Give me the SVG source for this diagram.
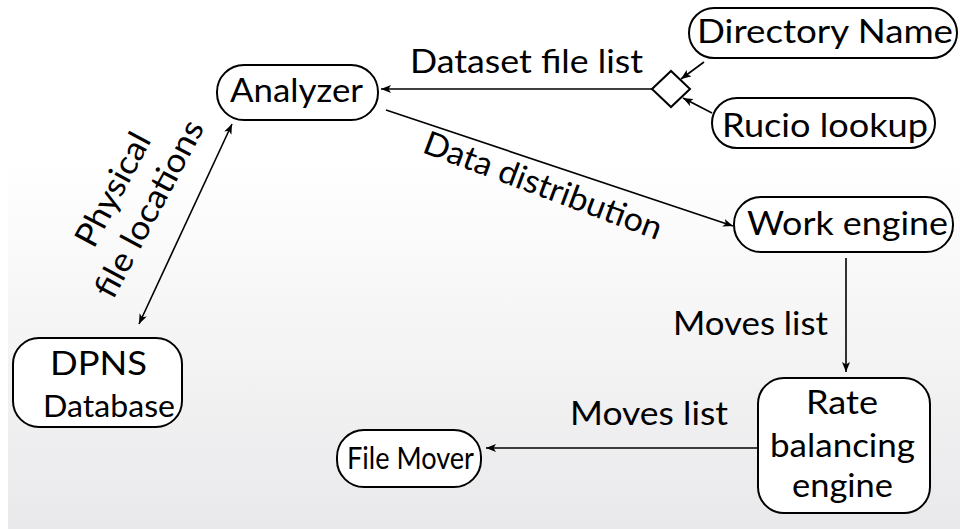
<svg xmlns="http://www.w3.org/2000/svg" width="960" height="529" viewBox="0 0 960 529">
  <defs>
    <linearGradient id="bg" x1="0" y1="0" x2="0" y2="1">
      <stop offset="0" stop-color="#ffffff"/>
      <stop offset="0.3" stop-color="#ffffff"/>
      <stop offset="1" stop-color="#e9e9eb"/>
    </linearGradient>
    <marker id="arr" viewBox="0 0 10 8" refX="10" refY="4" markerWidth="10" markerHeight="8" markerUnits="userSpaceOnUse" orient="auto-start-reverse">
      <path d="M0,0 L10,4 L0,8 L2.5,4 z" fill="#000"/>
    </marker>
  </defs>
  <style>
    .box { fill: #ffffff; stroke: #000; stroke-width: 2; }
    .lbl { font-family: Lato, "Open Sans", "DejaVu Sans", sans-serif; font-size: 33px; fill: #000; }
    .narrow { font-size: 31px; }
    .con { fill: none; stroke: #000; stroke-width: 1.6; }
  </style>
  <rect x="0" y="0" width="960" height="529" fill="#ffffff"/>
  <rect x="8" y="0" width="952" height="529" fill="url(#bg)"/>

  <g id="connectors">
    <path class="con" d="M652,89 L381,89" marker-end="url(#arr)"/>
    <path class="con" d="M704,62 L681,79" marker-end="url(#arr)"/>
    <path class="con" d="M712,113 L683,98" marker-end="url(#arr)"/>
    <path class="con" d="M386,110 L733,226" marker-end="url(#arr)"/>
    <path class="con" d="M139,324 L232,124" marker-start="url(#arr)" marker-end="url(#arr)"/>
    <path class="con" d="M846,258 L846,372" marker-end="url(#arr)"/>
    <path class="con" d="M757,448 L486,448" marker-end="url(#arr)"/>
    <text class="lbl" x="410" y="73" textLength="233" lengthAdjust="spacingAndGlyphs">Dataset file list</text>
    <text class="lbl" transform="translate(421,152) rotate(20.5)" x="0" y="0" textLength="252" lengthAdjust="spacingAndGlyphs">Data distribution</text>
    <g transform="translate(159,214) rotate(-62)">
      <text class="lbl" x="0" y="-41" text-anchor="middle" textLength="124" lengthAdjust="spacingAndGlyphs">Physical</text>
      <text class="lbl" x="0" y="0" text-anchor="middle" textLength="196" lengthAdjust="spacingAndGlyphs">file locations</text>
    </g>
    <text class="lbl" x="673" y="335" textLength="155" lengthAdjust="spacingAndGlyphs">Moves list</text>
    <text class="lbl" x="570" y="425" textLength="158" lengthAdjust="spacingAndGlyphs">Moves list</text>
  </g>

  <g id="merge">
    <polygon class="box" points="652,89 671,71 690,89 671,107" stroke-width="1.8"/>
  </g>

  <g id="directory-name">
    <rect class="box" x="689" y="8" width="268" height="50" rx="25"/>
    <text class="lbl" x="697" y="43" textLength="256" lengthAdjust="spacingAndGlyphs">Directory Name</text>
  </g>

  <g id="rucio-lookup">
    <rect class="box" x="712" y="98" width="223" height="50" rx="25"/>
    <text class="lbl" x="722" y="137" textLength="206" lengthAdjust="spacingAndGlyphs">Rucio lookup</text>
  </g>

  <g id="analyzer">
    <rect class="box" x="217" y="65" width="161" height="55" rx="27"/>
    <text class="lbl" x="230" y="102" textLength="133" lengthAdjust="spacingAndGlyphs">Analyzer</text>
  </g>

  <g id="work-engine">
    <rect class="box" x="734" y="197" width="219" height="55" rx="27"/>
    <text class="lbl" x="747" y="235" textLength="201" lengthAdjust="spacingAndGlyphs">Work engine</text>
  </g>

  <g id="dpns-database">
    <rect class="box" x="13" y="338" width="169" height="89" rx="26"/>
    <text class="lbl" x="50" y="375" textLength="97" lengthAdjust="spacingAndGlyphs">DPNS</text>
    <text class="lbl narrow" x="43" y="417" textLength="132" lengthAdjust="spacingAndGlyphs">Database</text>
  </g>

  <g id="rate-balancing-engine">
    <rect class="box" x="758" y="378" width="172" height="135" rx="26"/>
    <text class="lbl" x="806" y="414" textLength="72" lengthAdjust="spacingAndGlyphs">Rate</text>
    <text class="lbl" x="770" y="457" textLength="145" lengthAdjust="spacingAndGlyphs">balancing</text>
    <text class="lbl" x="792" y="497" textLength="101" lengthAdjust="spacingAndGlyphs">engine</text>
  </g>

  <g id="file-mover">
    <rect class="box" x="337" y="430" width="144" height="57" rx="27"/>
    <text class="lbl narrow" x="347" y="469" textLength="127" lengthAdjust="spacingAndGlyphs">File Mover</text>
  </g>
</svg>
